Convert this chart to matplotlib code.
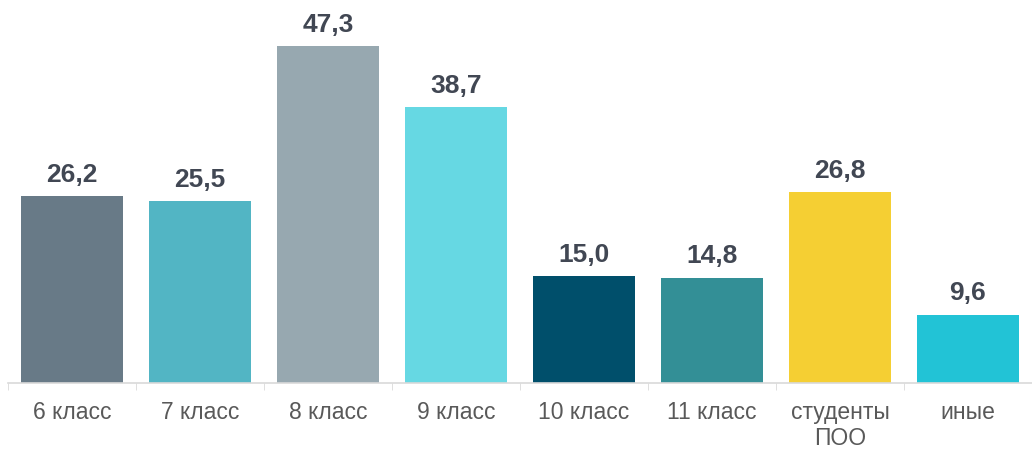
import matplotlib.pyplot as plt
import numpy as np

categories = ['6 класс', '7 класс', '8 класс', '9 класс', '10 класс', '11 класс', 'студенты\nПОО', 'иные']
values = [26.2, 25.5, 47.3, 38.7, 15.0, 14.8, 26.8, 9.6]
colors = ['#687a87', '#52b5c4', '#97a8b0', '#66d8e3', '#004f6b', '#338f96', '#f5cf33', '#22c3d6']

if __name__ == '__main__':
    plt.rcParams['font.family'] = ['Liberation Sans', 'DejaVu Sans']
    fig = plt.figure(figsize=(10.32, 4.49), dpi=100)
    ax = fig.add_axes([8 / 1032, 66 / 449, 1024 / 1032, 383 / 449])
    x = np.arange(len(values))
    ax.bar(x, values, width=0.79, color=colors)
    for xi, v in zip(x, values):
        # decimal comma, as in the original
        ax.text(xi, v + 1.3, f'{v:.1f}'.replace('.', ','), ha='center', va='bottom',
                fontsize=19, fontweight='bold', color='#414753')
    ax.set_xlim(-0.5, 7.5)
    ax.set_ylim(0, 53.75)
    ax.set_yticks([])
    ax.set_xticks(x)
    ax.set_xticklabels(categories, fontsize=16.5, color='#595959', linespacing=1.15)
    ax.tick_params(axis='x', which='major', length=0, pad=13)
    ax.set_xticks(np.arange(-0.5, 8, 1), minor=True)
    ax.tick_params(axis='x', which='minor', length=5, color='#d9d9d9')
    for s in ['top', 'right', 'left']:
        ax.spines[s].set_visible(False)
    ax.spines['bottom'].set_color('#d9d9d9')
    ax.spines['bottom'].set_linewidth(1.2)
    plt.savefig('out.png', dpi=100)
